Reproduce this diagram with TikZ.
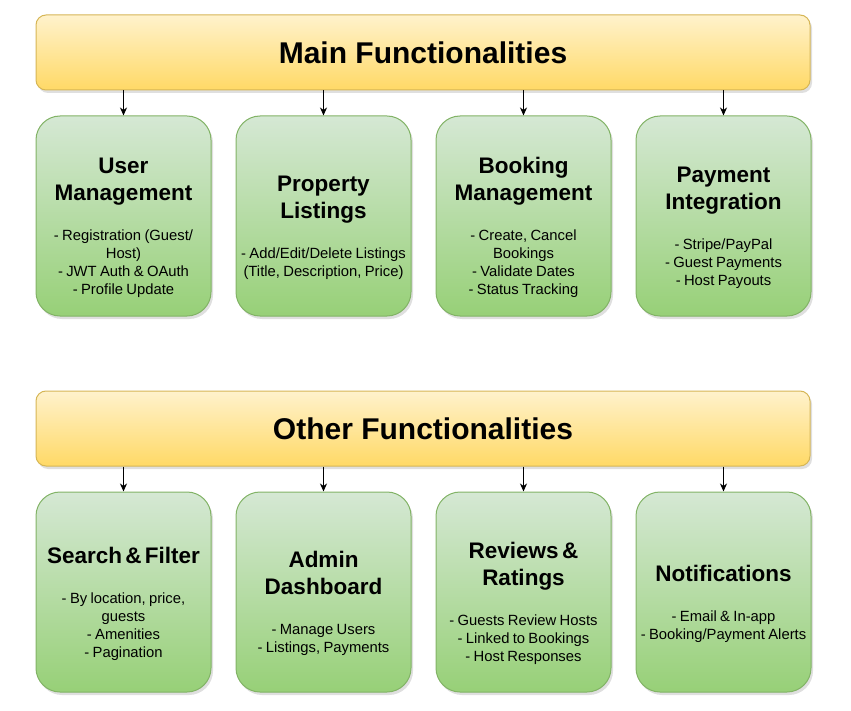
\documentclass[tikz,border=0pt]{standalone}
\usepackage{fontspec}
\setmainfont{Liberation Sans}
\usetikzlibrary{positioning,arrows.meta,shadows}

\definecolor{barTop}{HTML}{FFF2CC}
\definecolor{barBottom}{HTML}{FFD966}
\definecolor{barLine}{HTML}{D6B656}
\definecolor{cardTop}{HTML}{D5E8D4}
\definecolor{cardBottom}{HTML}{97D077}
\definecolor{cardLine}{HTML}{82B366}

\newcommand{\cardtext}[2]{\centering{\fontsize{22.5}{27}\selectfont\bfseries\rule{0pt}{40pt}#1\par}\vskip 22pt{\fontsize{14.8}{18}\selectfont #2\par}}

\begin{document}
\begin{tikzpicture}[x=1pt, y=1pt, bar/.style={draw=barLine, line width=1pt, rounded corners=10pt, top color=barTop, bottom color=barBottom, minimum width=774pt, minimum height=75pt, font=\fontsize{30}{36}\selectfont\bfseries, drop shadow={opacity=0.25, shadow xshift=2pt, shadow yshift=-3pt}}, card/.style={draw=cardLine, line width=1pt, rounded corners=24pt, top color=cardTop, bottom color=cardBottom, minimum width=175pt, minimum height=200pt, text width=172pt, inner xsep=1pt, drop shadow={opacity=0.25, shadow xshift=2pt, shadow yshift=-3pt}}, flow/.style={line width=1pt, -{Stealth[length=8pt, width=7pt, inset=2.5pt]}}]
\useasboundingbox (0,0) rectangle (851,-711);
\node[bar] (mainbar) at (423,-52.5) {Main Functionalities};
\node[card, below=25pt of mainbar.south west, anchor=north west] (user) {\cardtext{User\\Management}{- Registration (Guest/\\Host)\\- JWT Auth \& OAuth\\- Profile Update}};
\node[card, right=24pt of user] (property) {\cardtext{Property\\Listings}{- Add/Edit/Delete Listings\\(Title, Description, Price)}};
\node[card, right=24pt of property] (booking) {\cardtext{Booking\\Management}{- Create, Cancel\\Bookings\\- Validate Dates\\- Status Tracking}};
\node[card, right=24pt of booking] (payment) {\cardtext{Payment\\Integration}{- Stripe/PayPal\\- Guest Payments\\- Host Payouts}};
\node[bar, below=74pt of user.south west, anchor=north west] (otherbar) {Other Functionalities};
\node[card, below=25pt of otherbar.south west, anchor=north west] (search) {\cardtext{Search \& Filter}{- By location, price,\\guests\\- Amenities\\- Pagination}};
\node[card, right=24pt of search] (admin) {\cardtext{Admin\\Dashboard}{- Manage Users\\- Listings, Payments}};
\node[card, right=24pt of admin] (reviews) {\cardtext{Reviews \&\\Ratings}{- Guests Review Hosts\\- Linked to Bookings\\- Host Responses}};
\node[card, right=24pt of reviews] (notify) {\cardtext{Notifications}{- Email \& In-app\\- Booking/Payment Alerts}};
\foreach \card in {user,property,booking,payment}
  \draw[flow] (\card.north |- mainbar.south) -- (\card.north);
\foreach \card in {search,admin,reviews,notify}
  \draw[flow] (\card.north |- otherbar.south) -- (\card.north);
\end{tikzpicture}
\end{document}
